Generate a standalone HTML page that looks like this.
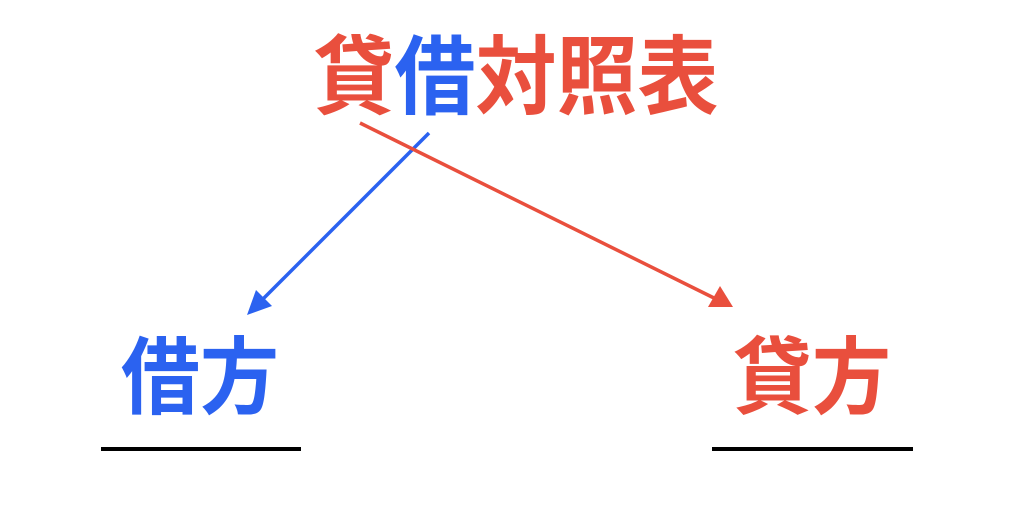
<!DOCTYPE html>
<html><head><meta charset="utf-8"><style>
html,body{margin:0;padding:0;background:#fff;width:1024px;height:516px;overflow:hidden}
text{font-family:"Liberation Sans","Noto Sans CJK JP",sans-serif;font-weight:700}
</style></head><body>
<svg width="1024" height="516" viewBox="0 0 1024 516" xmlns="http://www.w3.org/2000/svg">
<text x="516" y="78" font-size="86" text-anchor="middle" dominant-baseline="central" textLength="405" lengthAdjust="spacingAndGlyphs"><tspan fill="#e94f3d">貸</tspan><tspan fill="#2b62f0">借</tspan><tspan fill="#e94f3d">対照表</tspan></text>
<text x="200" y="378" font-size="84" fill="#2b62f0" text-anchor="middle" dominant-baseline="central" textLength="158" lengthAdjust="spacingAndGlyphs">借方</text>
<text x="812" y="378" font-size="84" fill="#e94f3d" text-anchor="middle" dominant-baseline="central" textLength="158" lengthAdjust="spacingAndGlyphs">貸方</text>
<line x1="429" y1="133" x2="262" y2="300" stroke="#2b62f0" stroke-width="3.5"/>
<polygon points="247,315 256,290 272,306" fill="#2b62f0"/>
<line x1="360" y1="123" x2="716" y2="299" stroke="#e94f3d" stroke-width="3.5"/>
<polygon points="733,307 708,307 720,286" fill="#e94f3d"/>
<rect x="101" y="447" width="200" height="4" fill="#000"/>
<rect x="712" y="447" width="201" height="4" fill="#000"/>
</svg>
</body></html>
